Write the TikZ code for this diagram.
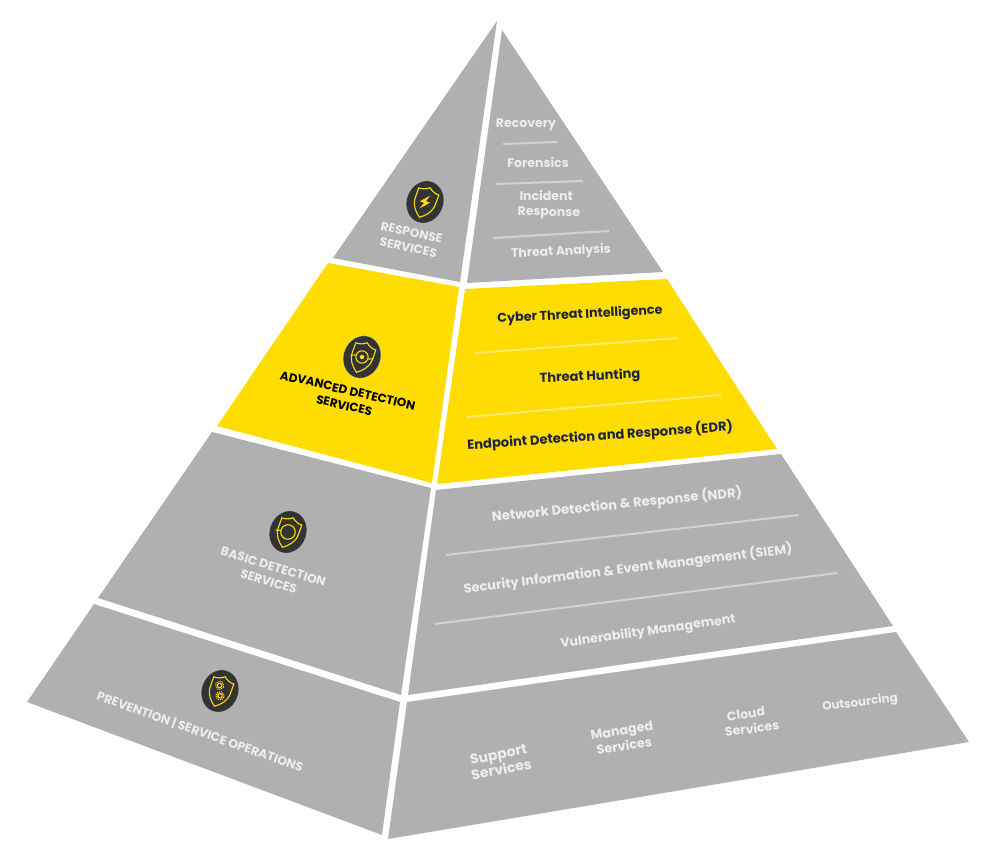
\documentclass[tikz,border=0pt]{standalone}
\usepackage{fontspec}
\setmainfont{Poppins}
\usepackage{tikz}
\definecolor{panelgrey}{HTML}{B0B0B0}
\definecolor{paneltext}{HTML}{EDEDED}
\definecolor{panelrule}{HTML}{D2D2D2}
\definecolor{eyyellow}{HTML}{FFDD00}
\definecolor{yellowrule}{HTML}{FFE96E}
\definecolor{eynavy}{HTML}{1E2440}
\definecolor{badgedark}{HTML}{333333}
\tikzset{
  size/.style={font=\fontsize{#1}{15.5}\selectfont\bfseries},
  greytext/.style={text=paneltext, align=center, inner sep=0pt},
  navytext/.style={text=eynavy, align=center, inner sep=0pt},
  headtext/.style={align=center, inner sep=0pt},
  greyrule/.style={draw=panelrule, line width=2},
  yellowline/.style={draw=yellowrule, line width=2},
  shieldline/.style={draw=eyyellow, line width=1.1}
}
\newcommand{\shieldbadge}[2]{
  \begin{scope}[shift={(#1)},rotate=-20,scale=1.12]
    \fill[badgedark, draw=white, draw opacity=.3, line width=.8] (0,0) ellipse (16.5 and 19.2);
    \draw[shieldline] (0,-13.5) .. controls (-3,-11) and (-6,-10) .. (-9.5,-10) -- (-9.5,-1) .. controls (-9.5,6) and (-5,11) .. (0,14.5) .. controls (5,11) and (9.5,6) .. (9.5,-1) -- (9.5,-10) .. controls (6,-10) and (3,-11) .. (0,-13.5) -- cycle;
    #2
  \end{scope}
}
\begin{document}
\begin{tikzpicture}[x=1pt,y=-1pt]
\useasboundingbox (0,0) rectangle (997,858);
\fill[panelgrey] (497,21) -- (460,282) -- (333,258) -- cycle;
\fill[panelgrey] (502,30) -- (663,272) -- (467,283) -- cycle;
\fill[eyyellow] (328,263) -- (459,287) -- (432,483) -- (217,426) -- cycle;
\fill[eyyellow] (465,289) -- (667,279) -- (777,449) -- (437,484) -- cycle;
\fill[panelgrey] (212,432) -- (431,488) -- (401,695) -- (98,598) -- cycle;
\fill[panelgrey] (436,490) -- (781,454) -- (893,626) -- (408,695) -- cycle;
\fill[panelgrey] (94,604) -- (400,702) -- (382,835) -- (27,702) -- cycle;
\fill[panelgrey] (407,702) -- (896,632) -- (969,742) -- (388,839) -- cycle;
\draw[greyrule] (503,144) -- (557,142);
\draw[greyrule] (496,184) -- (583,181);
\draw[greyrule] (493,238) -- (609,231);
\draw[yellowline] (475,353) -- (678,338);
\draw[yellowline] (467,417) -- (721,395);
\draw[greyrule] (446,555) -- (799,515);
\draw[greyrule] (435,624) -- (837,573);
\shieldbadge{425,202}{
  \fill[eyyellow] (2.5,-7) -- (-4.5,1) -- (-0.5,1) -- (-2.5,7) -- (4.5,-1) -- (0.5,-1) -- cycle;
}
\shieldbadge{362,357}{
  \draw[shieldline] (0,0) circle (5.5);
  \draw[shieldline] (-5.5,0) -- (-10,2);
  \draw[shieldline] (5.5,0) -- (10,-2);
  \fill[eyyellow] (0,0) circle (2);
}
\shieldbadge{288,532}{
  \draw[shieldline] (0,0) circle (6.5);
  \draw[shieldline] (-6.5,1) -- (-11,2);
}
\shieldbadge{220,691}{
  \draw[shieldline] (-2,-4.5) circle (2);
  \draw[eyyellow, line width=1.2, dash pattern=on 1pt off 1pt] (-2,-4.5) circle (3.6);
  \draw[shieldline] (1.5,4) circle (2);
  \draw[eyyellow, line width=1.2, dash pattern=on 1pt off 1pt] (1.5,4) circle (3.6);
}
\node[headtext, size=12.2, text=paneltext, rotate=-12] (response) at (410,240) {RESPONSE\\SERVICES};
\node[headtext, size=12, text=black, rotate=-13] (advanced) at (346,398) {ADVANCED DETECTION\\SERVICES};
\node[headtext, size=12.3, text=paneltext, rotate=-17] (basic) at (271,574) {BASIC DETECTION\\SERVICES};
\node[headtext, size=12.3, text=paneltext, rotate=-19.5] (prevention) at (200,732) {PREVENTION | SERVICE OPERATIONS};
\node[greytext, size=12.5] (recovery) at (526,125) {Recovery};
\node[greytext, size=12.5] (forensics) at (538,163) {Forensics};
\node[greytext, size=12.5, rotate=-1] (incident) at (549,205) {Incident\hspace*{6pt}\\Response};
\node[greytext, size=12.4, rotate=2.5] (analysis) at (561,252) {Threat Analysis};
\node[navytext, size=12.7, rotate=3] (cyber) at (580,315) {Cyber Threat Intelligence};
\node[navytext, size=13, rotate=2.5] (hunting) at (590,377) {Threat Hunting};
\node[navytext, size=13.1, rotate=4] (endpoint) at (600,436) {Endpoint Detection and Response (EDR)};
\node[greytext, size=13.2, rotate=5.7] (ndr) at (617,505) {Network Detection \& Response (NDR)};
\node[greytext, size=13, rotate=7] (siem) at (628,569) {Security Information \& Event Management (SIEM)};
\node[greytext, size=12.7, rotate=8] (vulnerability) at (648,632) {Vulnerability Management};
\node[greytext, size=14, rotate=11] (support) at (500,762) {Support\\Services};
\node[greytext, size=12.8, rotate=9] (managed) at (623,738) {Managed\\Services};
\node[greytext, size=12.5, rotate=8] (cloud) at (751,721) {Cloud\hspace*{8pt}\\Services};
\node[greytext, size=11.8, rotate=7] (outsourcing) at (860,703) {Outsourcing};
\end{tikzpicture}
\end{document}
